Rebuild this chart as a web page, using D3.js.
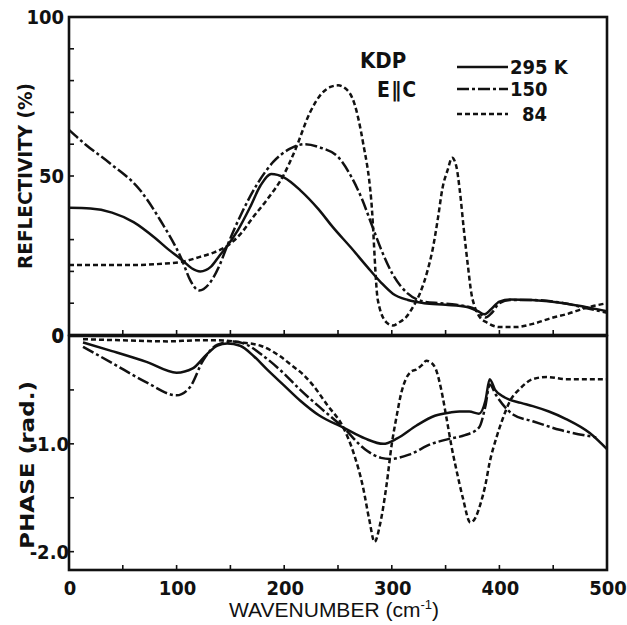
<!DOCTYPE html>
<html>
<head>
<meta charset="utf-8">
<script src="https://cdn.jsdelivr.net/npm/d3@7"></script>
<style>
  body { margin: 0; background: #fff; }
  svg text { font-family: "DejaVu Sans Condensed", "Liberation Sans", sans-serif; fill: #111; }
</style>
</head>
<body>
<div id="chart"></div>
<script>
// --- data ---
const reflW295 = [0, 20, 40, 60, 80, 92, 105, 114, 122, 132, 140, 147, 157, 168, 178, 188, 200, 215, 232, 245, 262, 277, 290, 301, 315, 330, 350, 370, 380, 386, 392, 400, 410, 430, 460, 480, 500];
const reflR295 = [40, 39.8, 38.5, 35.5, 30.5, 27, 23.6, 21, 20, 21.5, 25, 28, 33, 40, 47, 50.6, 49.5, 45.5, 39.5, 34, 27.5, 21.5, 16.5, 13, 11, 10, 9.5, 8.8, 7.5, 6.5, 8, 10.5, 11.2, 11, 10, 8.8, 7.5];

const reflW150 = [0, 15, 38, 66, 85, 105, 113, 121, 130, 140, 147, 160, 175, 190, 205, 219, 233, 250, 262, 272, 281, 290, 301, 315, 330, 345, 360, 375, 381, 387, 393, 400, 410, 430, 460, 480, 500];
const reflR150 = [64.5, 60, 54, 45.6, 36, 23.6, 17, 14, 16, 22, 28, 38, 47.5, 54.5, 58.5, 60, 59, 56, 50, 43, 35, 27, 19, 13, 10.5, 10, 9.5, 8.5, 7, 5.5, 7, 10, 11, 11, 10, 8.5, 7];

const reflW84 = [0, 30, 60, 90, 105, 121, 135, 147, 160, 171, 185, 199, 210, 224, 235, 243, 250, 257, 265, 273, 281, 287, 295, 301, 307, 313, 320, 326, 333, 338, 343, 347, 352, 356, 360, 363, 367, 371, 374, 377, 382, 388, 400, 415, 431, 450, 462, 480, 500];
const reflR84 = [22, 22, 22, 22.5, 23, 24.5, 26, 28, 32, 37, 43, 50, 58, 70, 76, 78, 78.5, 77.5, 73, 61, 42, 11, 4, 3, 4, 5.5, 9, 13, 20, 27, 37, 46, 52, 55.7, 53, 46, 33, 21, 13, 9, 5.5, 4, 2.5, 2.5, 3.5, 5.5, 6.5, 8.5, 10];

const phaseW295 = [13, 40, 72, 100, 115, 128, 138, 147, 159, 172, 184, 200, 215, 233, 255, 275, 292, 305, 323, 340, 354, 363, 372, 381, 387, 391, 396, 405, 420, 431, 446, 462, 484, 500];
const phaseP295 = [-0.06, -0.14, -0.24, -0.34, -0.3, -0.17, -0.09, -0.07, -0.09, -0.19, -0.31, -0.46, -0.6, -0.74, -0.85, -0.95, -1.0, -0.95, -0.83, -0.74, -0.71, -0.7, -0.7, -0.72, -0.6, -0.4, -0.5, -0.57, -0.62, -0.65, -0.7, -0.77, -0.9, -1.05];

const phaseW150 = [13, 40, 72, 100, 112, 125, 138, 153, 165, 180, 200, 215, 233, 255, 275, 290, 298, 316, 337, 355, 368, 381, 387, 391, 397, 413, 431, 456, 490];
const phaseP150 = [-0.1, -0.25, -0.43, -0.55, -0.48, -0.22, -0.08, -0.05, -0.08, -0.18, -0.35, -0.5, -0.66, -0.85, -1.05, -1.13, -1.14, -1.1, -1.0, -0.95, -0.92, -0.85, -0.65, -0.45, -0.55, -0.73, -0.79, -0.87, -0.94];

const phaseW84 = [13, 50, 92, 120, 138, 160, 178, 195, 208, 218, 227, 240, 255, 265, 273, 279, 284, 289, 295, 300, 304, 309, 313, 318, 323, 328, 332, 337, 341, 346, 351, 356, 360, 366, 373, 378, 382, 387, 391, 397, 403, 410, 419, 431, 444, 462, 480, 500];
const phaseP84 = [-0.03, -0.04, -0.05, -0.04, -0.04, -0.06, -0.09, -0.18, -0.28, -0.36, -0.46, -0.64, -0.85, -1.1, -1.39, -1.7, -1.91, -1.75, -1.39, -1.0, -0.77, -0.52, -0.4, -0.33, -0.31, -0.27, -0.23, -0.25, -0.31, -0.5, -0.77, -1.05, -1.24, -1.5, -1.73, -1.68, -1.57, -1.38, -1.17, -0.95, -0.77, -0.6, -0.49, -0.4, -0.38, -0.4, -0.4, -0.4];

const seriesNames = ['295 K', '150', '84'];
const xTickValues = [0, 100, 200, 300, 400, 500];
const reflTickLabels = [0, 50, 100];
const phaseTickLabels = [0, -1.0, -2.0];

// --- layout ---
const width = 627, height = 625;
const x = d3.scaleLinear().domain([0, 500]).range([69, 607]);
const yR = d3.scaleLinear().domain([0, 100]).range([335, 17]);
const yP = d3.scaleLinear().domain([0, -2.17]).range([336, 570]);

const dashes = { '295 K': null, '150': '12,3,3,3', '84': '5,3' };

const svg = d3.select('#chart').append('svg')
  .attr('width', width).attr('height', height);

const line = (xs, ys, yScale) => d3.line()
  .x(i => x(xs[i]))
  .y(i => yScale(ys[i]))
  .curve(d3.curveMonotoneX)(d3.range(xs.length));

// ticks (inward)
const tickG = svg.append('g').attr('stroke', '#111').attr('stroke-width', 1.6);
d3.range(0, 501, 50).forEach(v => {
  tickG.append('line').attr('x1', x(v)).attr('x2', x(v)).attr('y1', yR(0)).attr('y2', yR(0) - 5);
  tickG.append('line').attr('x1', x(v)).attr('x2', x(v)).attr('y1', yP.range()[1]).attr('y2', yP.range()[1] - 5);
});
d3.range(0, 101, 10).forEach(v => {
  tickG.append('line').attr('x1', x(0)).attr('x2', x(0) + 5).attr('y1', yR(v)).attr('y2', yR(v));
});
d3.range(0, -2.01, -0.5).forEach(v => {
  tickG.append('line').attr('x1', x(0)).attr('x2', x(0) + 5).attr('y1', yP(v)).attr('y2', yP(v));
});

// frames
svg.append('rect').attr('x', x(0)).attr('y', yR(100))
  .attr('width', x(500) - x(0)).attr('height', yR(0) - yR(100))
  .attr('fill', 'none').attr('stroke', '#111').attr('stroke-width', 2.6);
svg.append('rect').attr('x', x(0)).attr('y', yP(0))
  .attr('width', x(500) - x(0)).attr('height', yP.range()[1] - yP(0))
  .attr('fill', 'none').attr('stroke', '#111').attr('stroke-width', 2.6);

// curves
const curves = svg.append('g').attr('fill', 'none').attr('stroke', '#111')
  .attr('stroke-width', 2.5).attr('stroke-linejoin', 'round');
const refl = [[reflW295, reflR295], [reflW150, reflR150], [reflW84, reflR84]];
const phase = [[phaseW295, phaseP295], [phaseW150, phaseP150], [phaseW84, phaseP84]];
seriesNames.forEach((name, k) => {
  curves.append('path').attr('d', line(refl[k][0], refl[k][1], yR))
    .attr('stroke-dasharray', dashes[name]);
  curves.append('path').attr('d', line(phase[k][0], phase[k][1], yP))
    .attr('stroke-dasharray', dashes[name]);
});

// tick labels
const lab = svg.append('g').attr('font-size', 20).attr('font-weight', 'bold');
xTickValues.forEach(v => {
  lab.append('text').attr('x', x(v) + 1).attr('y', 595)
    .attr('text-anchor', 'middle').text(v);
});
reflTickLabels.forEach(v => {
  lab.append('text').attr('x', 64).attr('y', yR(v) + 7)
    .attr('text-anchor', 'end').text(v);
});
phaseTickLabels.forEach(v => {
  lab.append('text').attr('x', v === 0 ? 64 : 69).attr('y', yP(v) + 7)
    .attr('text-anchor', 'end').text(v === 0 ? '0' : d3.format('.1f')(v).replace('\u2212', '-'));
});

// axis titles
svg.append('text')
  .attr('transform', 'translate(32,176) rotate(-90)')
  .attr('text-anchor', 'middle').attr('font-size', 20).attr('font-weight', 'bold')
  .attr('textLength', 186).attr('lengthAdjust', 'spacingAndGlyphs')
  .text('REFLECTIVITY (%)');
svg.append('text')
  .attr('transform', 'translate(34,465) rotate(-90)')
  .attr('text-anchor', 'middle').attr('font-size', 20).attr('font-weight', 'bold')
  .attr('textLength', 168).attr('lengthAdjust', 'spacingAndGlyphs')
  .text('PHASE  (rad.)');
const xt = svg.append('text')
  .attr('x', 334).attr('y', 617)
  .attr('text-anchor', 'middle').attr('font-size', 21)
  .style('font-family', '"Liberation Sans", sans-serif')
  .text('WAVENUMBER  (cm');
xt.append('tspan').attr('dy', -8).attr('font-size', 13).text('-1');
xt.append('tspan').attr('dy', 8).text(')');

// legend
svg.append('text').attr('x', 360).attr('y', 68)
  .attr('font-size', 22).attr('font-weight', 'bold').text('KDP');
svg.append('text').attr('x', 377).attr('y', 97)
  .attr('font-size', 21).attr('font-weight', 'bold').attr('letter-spacing', 1.5).text('E\u2225C');
const legY = [67, 89, 114];
const legLabX = [510, 510, 522];
seriesNames.forEach((name, k) => {
  svg.append('line').attr('x1', 457).attr('x2', 508)
    .attr('y1', legY[k]).attr('y2', legY[k])
    .attr('stroke', '#111').attr('stroke-width', 2.5)
    .attr('stroke-dasharray', dashes[name]);
  svg.append('text').attr('x', legLabX[k]).attr('y', legY[k] + 7)
    .attr('font-size', 20).attr('font-weight', 'bold').text(name);
});
</script>
</body>
</html>
